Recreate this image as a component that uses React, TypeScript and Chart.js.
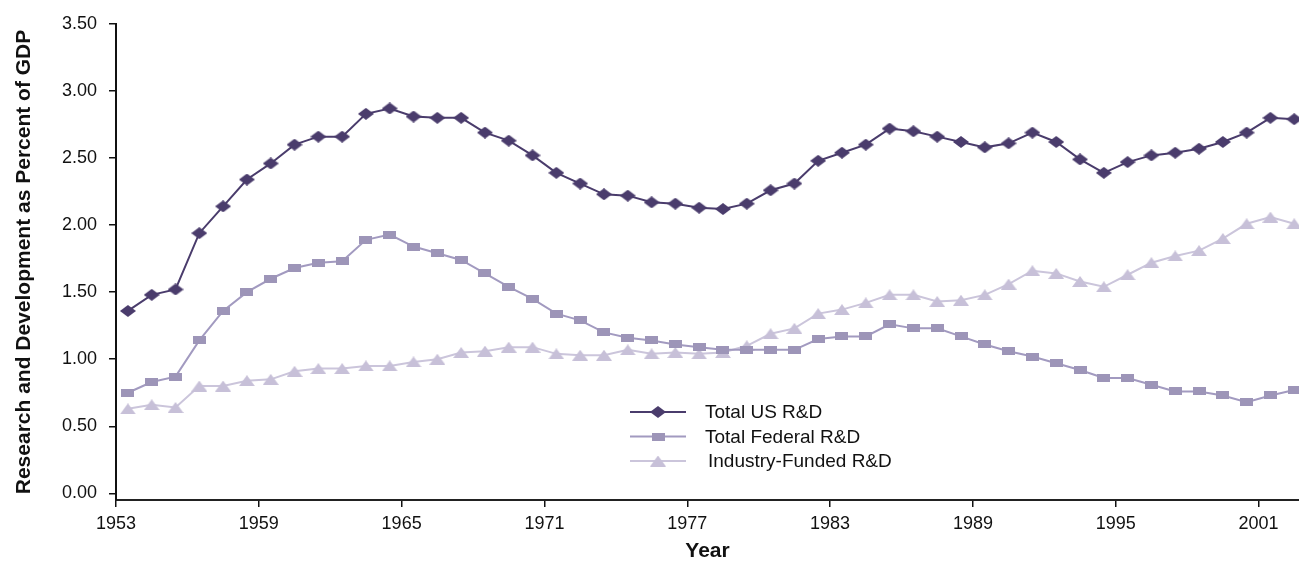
import React, { useEffect, useRef } from 'react';
import { Chart, registerables } from 'chart.js';

Chart.register(...registerables);

const years = [
  1953, 1954, 1955, 1956, 1957, 1958, 1959, 1960, 1961, 1962,
  1963, 1964, 1965, 1966, 1967, 1968, 1969, 1970, 1971, 1972,
  1973, 1974, 1975, 1976, 1977, 1978, 1979, 1980, 1981, 1982,
  1983, 1984, 1985, 1986, 1987, 1988, 1989, 1990, 1991, 1992,
  1993, 1994, 1995, 1996, 1997, 1998, 1999, 2000, 2001, 2002,
];

const totalUS = [
  1.36, 1.48, 1.52, 1.94, 2.14, 2.34, 2.46, 2.60, 2.66, 2.66,
  2.83, 2.87, 2.81, 2.80, 2.80, 2.69, 2.63, 2.52, 2.39, 2.31,
  2.23, 2.22, 2.17, 2.16, 2.13, 2.12, 2.16, 2.26, 2.31, 2.48,
  2.54, 2.60, 2.72, 2.70, 2.66, 2.62, 2.58, 2.61, 2.69, 2.62,
  2.49, 2.39, 2.47, 2.52, 2.54, 2.57, 2.62, 2.69, 2.80, 2.79,
];

const totalFederal = [
  0.75, 0.83, 0.87, 1.14, 1.36, 1.50, 1.60, 1.68, 1.72, 1.73,
  1.89, 1.93, 1.84, 1.79, 1.74, 1.64, 1.54, 1.45, 1.34, 1.29,
  1.20, 1.16, 1.14, 1.11, 1.09, 1.07, 1.07, 1.07, 1.07, 1.15,
  1.17, 1.17, 1.26, 1.23, 1.23, 1.17, 1.11, 1.06, 1.02, 0.97,
  0.92, 0.86, 0.86, 0.81, 0.76, 0.76, 0.73, 0.68, 0.73, 0.77,
];

const industryFunded = [
  0.63, 0.66, 0.64, 0.80, 0.80, 0.84, 0.85, 0.91, 0.93, 0.93,
  0.95, 0.95, 0.98, 1.00, 1.05, 1.06, 1.09, 1.09, 1.04, 1.03,
  1.03, 1.07, 1.04, 1.05, 1.04, 1.05, 1.10, 1.19, 1.23, 1.34,
  1.37, 1.42, 1.48, 1.48, 1.43, 1.44, 1.48, 1.56, 1.66, 1.64,
  1.58, 1.54, 1.63, 1.72, 1.77, 1.81, 1.90, 2.01, 2.06, 2.01,
];

const seriesLabels = ['Total US R&D', 'Total Federal R&D', 'Industry-Funded R&D'];
const xTickYears = [1953, 1959, 1965, 1971, 1977, 1983, 1989, 1995, 2001];
const yTickValues = [0, 0.5, 1, 1.5, 2, 2.5, 3, 3.5];
const yAxisTitle = 'Research and Development as Percent of GDP';
const xAxisTitle = 'Year';

const FONT = "'Liberation Sans', Arial, sans-serif";
const COLORS = {
  total: '#4a3c6c',
  federal: '#9d95b8',
  federalLine: '#a29ac0',
  industry: '#c7c0d8',
  industryLine: '#cbc5db',
  text: '#111111',
};

function makeMarker(kind: string, color: string, w: number, h: number): HTMLCanvasElement {
  const c = document.createElement('canvas');
  c.width = w;
  c.height = h;
  const g = c.getContext('2d')!;
  g.fillStyle = color;
  g.beginPath();
  if (kind === 'diamond') {
    g.moveTo(w / 2, 0);
    g.lineTo(w, h / 2);
    g.lineTo(w / 2, h);
    g.lineTo(0, h / 2);
  } else if (kind === 'triangle') {
    g.moveTo(w / 2, 0);
    g.lineTo(w, h);
    g.lineTo(0, h);
  } else {
    g.rect(0, 0, w, h);
  }
  g.closePath();
  g.fill();
  return c;
}

export default function App() {
  const canvasRef = useRef<HTMLCanvasElement | null>(null);

  useEffect(() => {
    const canvas = canvasRef.current;
    if (!canvas) return;

    const diamond = makeMarker('diamond', COLORS.total, 16, 12);
    const square = makeMarker('rect', COLORS.federal, 13, 8);
    const triangle = makeMarker('triangle', COLORS.industry, 16, 11);

    const markers = [diamond, square, triangle];
    const lineColors = [COLORS.total, COLORS.federalLine, COLORS.industryLine];

    const legendPlugin = {
      id: 'customLegend',
      afterDraw(chart: any) {
        const ctx = chart.ctx as CanvasRenderingContext2D;
        ctx.save();
        const x0 = 630;
        const x1 = 686;
        const textX = 705;
        const rowY = [412, 436.5, 461];
        seriesLabels.forEach((label, i) => {
          const y = rowY[i];
          ctx.strokeStyle = lineColors[i];
          ctx.lineWidth = 2;
          ctx.beginPath();
          ctx.moveTo(x0, y);
          ctx.lineTo(x1, y);
          ctx.stroke();
          const m = markers[i];
          ctx.drawImage(m, (x0 + x1) / 2 - m.width / 2, y - m.height / 2);
          ctx.fillStyle = COLORS.text;
          ctx.font = `19px ${FONT}`;
          ctx.textBaseline = 'middle';
          ctx.textAlign = 'left';
          ctx.fillText(label, textX + (i === 2 ? 3 : 0), y + 1);
        });
        ctx.restore();
      },
    };

    const toPoints = (vals: number[]) => years.map((yr, i) => ({ x: yr, y: vals[i] }));

    const chart = new Chart(canvas, {
      type: 'line',
      data: {
        datasets: [
          {
            label: seriesLabels[0],
            data: toPoints(totalUS),
            borderColor: COLORS.total,
            borderWidth: 2,
            pointStyle: diamond as any,
            pointRadius: 7,
            pointBackgroundColor: COLORS.total,
            tension: 0,
          },
          {
            label: seriesLabels[1],
            data: toPoints(totalFederal),
            borderColor: COLORS.federalLine,
            borderWidth: 2,
            pointStyle: square as any,
            pointRadius: 6,
            pointBackgroundColor: COLORS.federal,
            tension: 0,
          },
          {
            label: seriesLabels[2],
            data: toPoints(industryFunded),
            borderColor: COLORS.industryLine,
            borderWidth: 2,
            pointStyle: triangle as any,
            pointRadius: 7,
            pointBackgroundColor: COLORS.industry,
            tension: 0,
          },
        ],
      },
      options: {
        animation: false,
        responsive: false,
        maintainAspectRatio: false,
        devicePixelRatio: 1,
        layout: { autoPadding: false, padding: { top: 24, right: 0, left: 0, bottom: 0 } },
        plugins: {
          legend: { display: false },
          tooltip: { enabled: false },
        },
        scales: {
          x: {
            type: 'linear',
            min: 1952.5,
            max: 2002.2,
            afterBuildTicks: (s: any) => {
              s.ticks = xTickYears.map((y) => ({ value: y - 0.5 }));
            },
            afterFit: (s: any) => {
              s.height = 67;
              s.paddingRight = 0;
              s.paddingLeft = 0;
            },
            ticks: {
              callback: (v: any) => String(Math.round(Number(v) + 0.5)),
              font: { family: FONT, size: 18 },
              color: COLORS.text,
              padding: 6,
              maxRotation: 0,
              autoSkip: false,
            },
            grid: {
              drawOnChartArea: false,
              drawTicks: true,
              tickLength: 7,
              color: COLORS.text,
              lineWidth: 1.5,
            },
            border: { display: true, color: '#222222', width: 2 },
            title: {
              display: true,
              text: xAxisTitle,
              font: { family: FONT, size: 21, weight: 'bold' },
              color: COLORS.text,
              padding: { top: 0, bottom: 3 },
            },
          },
          y: {
            type: 'linear',
            min: -0.05,
            max: 3.5,
            afterBuildTicks: (s: any) => {
              s.ticks = yTickValues.map((v) => ({ value: v }));
            },
            afterFit: (s: any) => {
              s.width = 116;
            },
            ticks: {
              callback: (v: any) => Number(v).toFixed(2),
              font: { family: FONT, size: 18 },
              color: COLORS.text,
              padding: 12,
            },
            grid: {
              drawOnChartArea: false,
              drawTicks: true,
              tickLength: 7,
              color: COLORS.text,
              lineWidth: 1.5,
            },
            border: { display: true, color: COLORS.text, width: 2 },
            title: {
              display: true,
              text: yAxisTitle,
              font: { family: FONT, size: 21, weight: 'bold' },
              color: COLORS.text,
              padding: { top: 12, bottom: 0 },
            },
          },
        },
      },
      plugins: [legendPlugin],
    } as any);

    return () => {
      chart.destroy();
    };
  }, []);

  return (
    <div style={{ position: 'absolute', left: 0, top: 0, width: 1299, height: 567, background: '#ffffff' }}>
      <canvas ref={canvasRef} width={1299} height={567} style={{ display: 'block', width: 1299, height: 567 }} />
    </div>
  );
}
